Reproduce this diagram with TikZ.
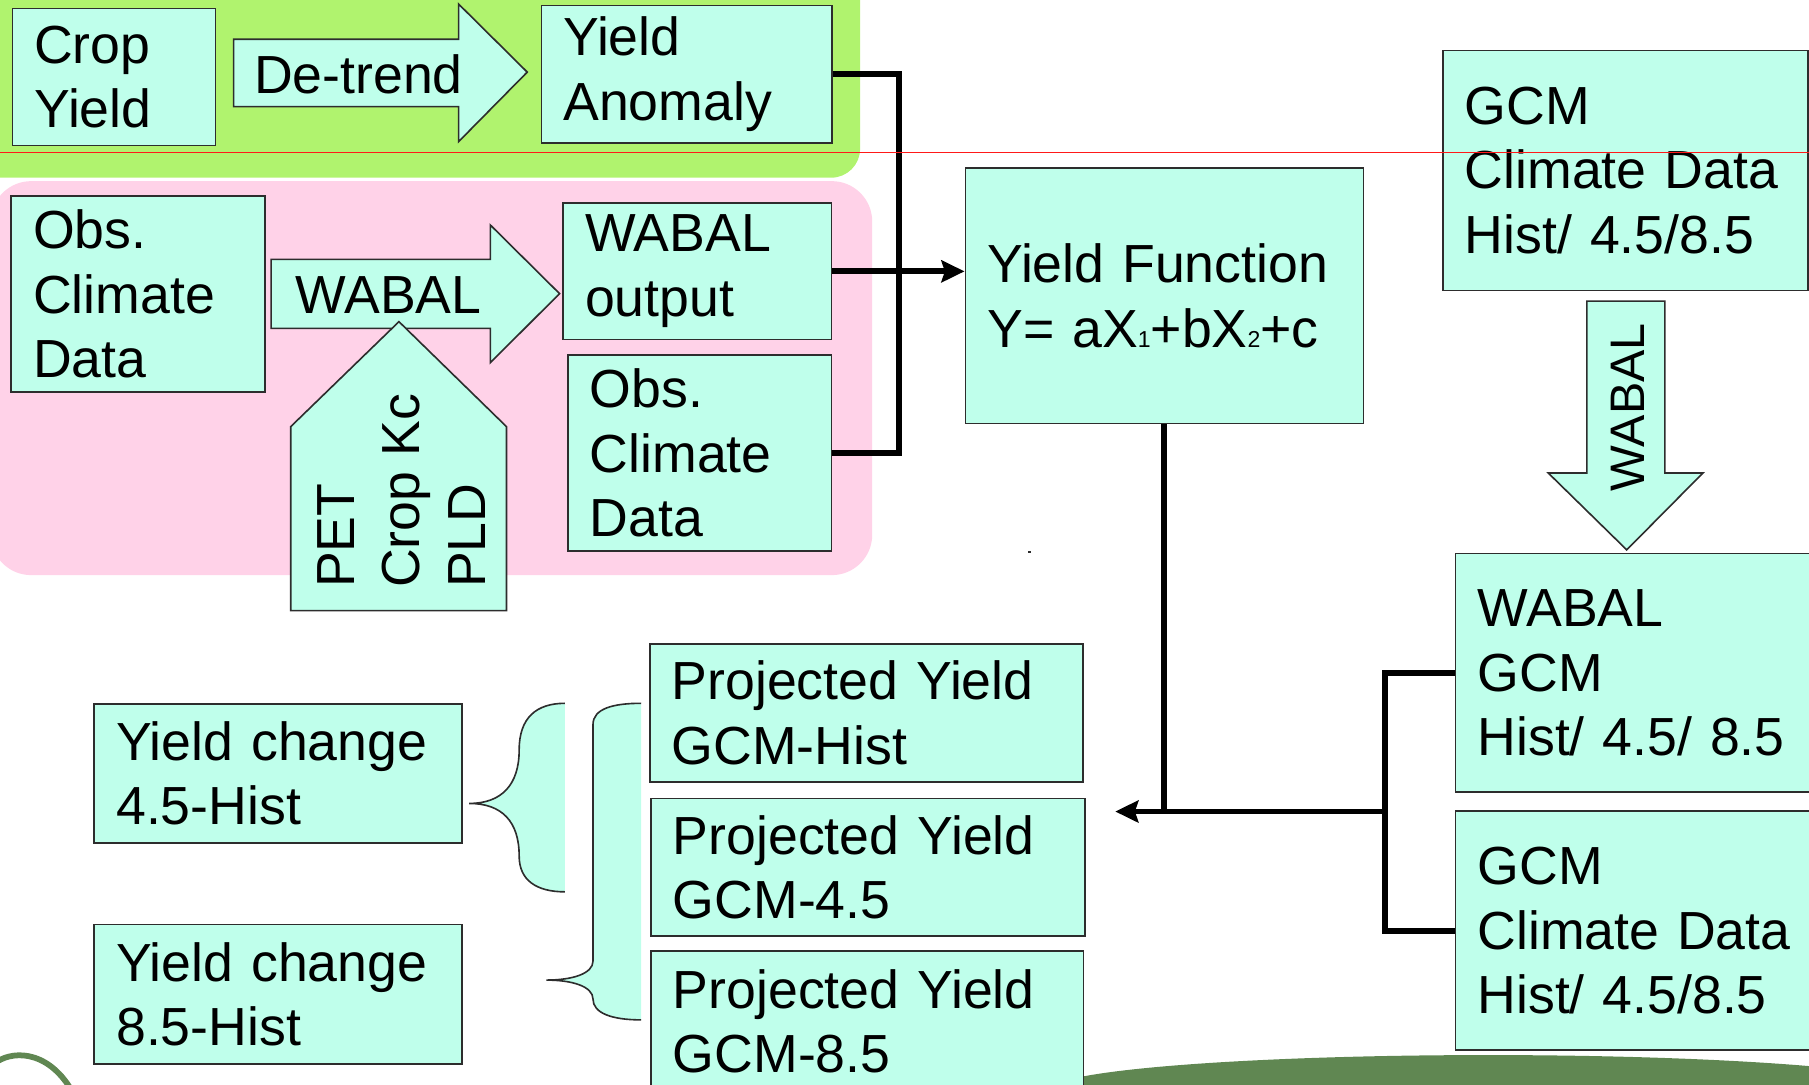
\documentclass[tikz,border=0pt]{standalone}
\usepackage{fontspec}
\setmainfont{Liberation Sans}
\usetikzlibrary{arrows.meta}
\definecolor{mint}{RGB}{191,255,235}
\definecolor{bggreen}{RGB}{176,243,110}
\definecolor{bgpink}{RGB}{255,210,232}
\definecolor{dkgreen}{RGB}{96,135,82}
\definecolor{edge}{RGB}{45,45,45}
\begin{document}
\begin{tikzpicture}[x=1pt,y=-1pt,
  box/.style={draw=edge, fill=mint, line width=1.4pt, rectangle, anchor=north west, align=left, inner xsep=19pt, inner ysep=0pt, font=\fontsize{46.5}{56}\selectfont},
  blk/.style={draw=edge, fill=mint, line width=1.4pt, line join=miter},
  conn/.style={draw=black, line width=5pt},
  lbl/.style={inner sep=0pt, font=\fontsize{46.5}{56}\selectfont}]
\useasboundingbox (0,0) rectangle (1568,940);
\clip (0,0) rectangle (1568,940);
% backgrounds
\fill[bggreen, rounded corners=25pt] (-30,-30) rectangle (745.5,154);
\fill[bgpink, rounded corners=35pt] (-8,157) rectangle (756,498.5);
\fill[dkgreen] (1290,944.5) ellipse [x radius=380, y radius=30];
\draw[dkgreen, line width=5pt] (-5,922) .. controls (8,911) and (40,908) .. (62,945);
\fill[edge] (891,477.5) rectangle (893.5,479.5);

% block arrows
\draw[blk] (202.5,34) -- (397.5,34) -- (397.5,3.5) -- (457,62.5) -- (397.5,122.8) -- (397.5,92.4) -- (202.5,92.4) -- cycle;
\node[lbl, anchor=west] (detrend) at (220,64) {De-trend};
\draw[blk] (235,224.8) -- (425,224.8) -- (425,195) -- (485,254.5) -- (425,314.4) -- (425,284.6) -- (235,284.6) -- cycle;
\node[lbl, anchor=west] (wabal1) at (256,255.6) {WABAL};
\draw[blk] (252,369.8) -- (345.8,278.8) -- (439,369.8) -- (439,529.3) -- (252,529.3) -- cycle;
\node[lbl, rotate=90, anchor=west, align=left, font=\fontsize{46.5}{57}\selectfont] (inputs) at (348,509.7) {PET\\Crop Kc\\PLD};
\draw[blk] (1375.5,261) -- (1443,261) -- (1443,410) -- (1476,410) -- (1410,476.6) -- (1342,410) -- (1375.5,410) -- cycle;
\node[lbl, rotate=90, font=\fontsize{42}{50}\selectfont] (wabal2) at (1411,353) {WABAL};

% boxes
\node[box, text width=138pt, minimum height=119pt] (crop) at (10,6.5) {Crop\\Yield};
\node[box, text width=214pt, minimum height=119pt] (anom) at (468.5,4) {Yield\\Anomaly};
\node[box, text width=182pt, minimum height=170pt] (obs1) at (9,169) {Obs.\\Climate\\Data};
\node[box, text width=194.5pt, minimum height=118pt] (wout) at (487.5,175.5) {WABAL\\output};
\node[box, text width=190.5pt, minimum height=170pt] (obs2) at (491.5,307) {Obs.\\Climate\\Data};
\node[box, text width=307pt, minimum height=221.5pt] (yf) at (836,145) {Yield Function\\Y= aX{\fontsize{20}{20}\selectfont 1}+bX{\fontsize{20}{20}\selectfont 2}+c};
\node[box, text width=278.5pt, minimum height=208pt] (gcm1) at (1250,43) {GCM\\Climate Data\\Hist/ 4.5/8.5};
\node[box, text width=292pt, minimum height=207pt] (wg) at (1261,479) {WABAL\\GCM\\Hist/ 4.5/ 8.5};
\node[box, text width=292pt, minimum height=207pt] (gb) at (1261,702.5) {GCM\\Climate Data\\Hist/ 4.5/8.5};
\node[box, text width=337.5pt, minimum height=119.5pt] (p1) at (562.5,557.5) {Projected Yield\\GCM-Hist};
\node[box, text width=338.5pt, minimum height=119pt] (p2) at (563.5,691.5) {Projected Yield\\GCM-4.5};
\node[box, text width=337pt, minimum height=122pt] (p3) at (563.5,823.5) {Projected Yield\\GCM-8.5};
\node[box, text width=281pt, minimum height=120.5pt] (yc1) at (81,609.5) {Yield change\\4.5-Hist};
\node[box, text width=281pt, minimum height=121pt] (yc2) at (81,800.5) {Yield change\\8.5-Hist};

% braces
\fill[mint] (489.7,609.6) .. controls (465,609.6) and (450,622) .. (450,650) .. controls (450,680) and (435,696.4) .. (406.7,696.4) .. controls (435,696.4) and (450,712) .. (450,742) .. controls (450,763) and (465,773) .. (489.7,773) -- cycle;
\draw[edge, line width=1.4pt] (489.7,609.6) .. controls (465,609.6) and (450,622) .. (450,650) .. controls (450,680) and (435,696.4) .. (406.7,696.4) .. controls (435,696.4) and (450,712) .. (450,742) .. controls (450,763) and (465,773) .. (489.7,773);
\fill[mint] (555.8,609.6) .. controls (532,609.6) and (514,614) .. (514,628) -- (514,833) .. controls (514,844) and (496,849.5) .. (473.6,849.5) .. controls (496,849.5) and (514,855) .. (514,866) .. controls (514,878) and (530,884) .. (555.8,884) -- cycle;
\draw[edge, line width=1.4pt] (555.8,609.6) .. controls (532,609.6) and (514,614) .. (514,628) -- (514,833) .. controls (514,844) and (496,849.5) .. (473.6,849.5) .. controls (496,849.5) and (514,855) .. (514,866) .. controls (514,878) and (530,884) .. (555.8,884);

% connectors
\coordinate (jx) at (779.5,0);
\draw[conn] (anom.east) -| (jx |- obs2.east) -- (obs2.east);
\draw[conn, -{Stealth[length=20pt,width=19pt,inset=3pt]}] (wout.east) -- (yf.west |- wout.east);
\coordinate (j) at (1200.8,703.4);
\coordinate (tip) at (966.7,703.4);
\coordinate (g807) at (0,807);
\draw[conn] (yf.south) -- (yf.south |- j);
\draw[conn] (wg.west) -| (j);
\draw[conn] (gb.west |- g807) -| (j);
\draw[conn, -{Stealth[length=20pt,width=19pt,inset=3pt]}] (j) -- (tip);

% red guide line
\draw[red!90, line width=1pt] (0,132) -- (1568,132);
\end{tikzpicture}
\end{document}
